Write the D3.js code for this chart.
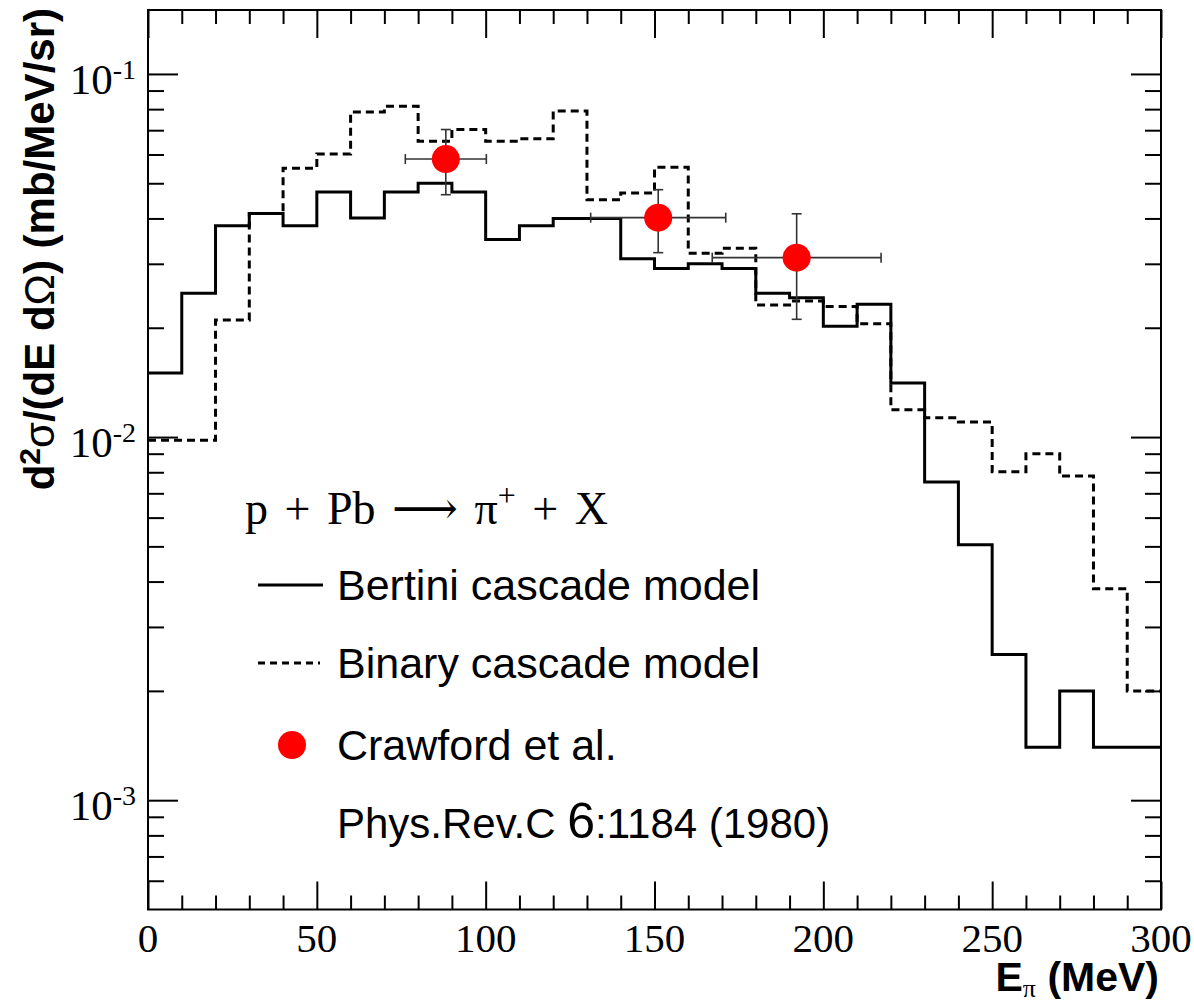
<!DOCTYPE html>
<html>
<head>
<meta charset="utf-8">
<script src="https://cdn.jsdelivr.net/npm/d3@7"></script>
<style>
  body { margin: 0; background: #fff; }
  .tick line { stroke: #000; stroke-width: 2; }
</style>
</head>
<body>
<div id="chart"></div>
<script>
// bins of 10 MeV
const binStarts = [0, 10, 20, 30, 40, 50, 60, 70, 80, 90, 100, 110, 120, 130, 140,
  150, 160, 170, 180, 190, 200, 210, 220, 230, 240, 250, 260, 270, 280, 290];
const binWidth = 10;

const bertini = [0.0150, 0.0249, 0.0382, 0.0413, 0.0382, 0.0473, 0.0401, 0.0473, 0.0500, 0.0473,
  0.0350, 0.0382, 0.0400, 0.0400, 0.0310, 0.0291, 0.0300, 0.0291, 0.0249, 0.0242,
  0.0202, 0.0232, 0.0141, 0.00752, 0.00505, 0.00252, 0.00140, 0.00200, 0.00140, 0.00140];

const binary = [0.0098, 0.0098, 0.0210, 0.0413, 0.0550, 0.0602, 0.0785, 0.0815, 0.0653, 0.0703,
  0.0653, 0.0663, 0.0790, 0.0450, 0.0470, 0.0553, 0.0321, 0.0331, 0.0231, 0.0237,
  0.0229, 0.0205, 0.0119, 0.0113, 0.0110, 0.00803, 0.0090, 0.00781, 0.00382, 0.00200];

// Crawford et al. data
const dataE = [88.2, 151.1, 192.1];
const dataEerr = [12, 20, 25];
const dataY = [0.0583, 0.0402, 0.0312];
const dataYhigh = [0.0703, 0.0480, 0.0412];
const dataYlow = [0.0465, 0.0322, 0.0211];

const xMajor = [0, 50, 100, 150, 200, 250, 300];
const xMinor = [10, 20, 30, 40, 60, 70, 80, 90, 110, 120, 130, 140, 160, 170, 180, 190,
  210, 220, 230, 240, 260, 270, 280, 290];
const yMajor = [1e-3, 1e-2, 1e-1];
const yMajorExp = ["-3", "-2", "-1"];
const yMinor = [6e-4, 7e-4, 8e-4, 9e-4, 2e-3, 3e-3, 4e-3, 5e-3, 6e-3, 7e-3, 8e-3, 9e-3,
  2e-2, 3e-2, 4e-2, 5e-2, 6e-2, 7e-2, 8e-2, 9e-2];

const W = 1194, H = 1003;
const plotL = 148, plotR = 1161, plotT = 10, plotB = 909.5;

const svg = d3.select("#chart").append("svg")
  .attr("width", W).attr("height", H);

const x = d3.scaleLinear().domain([0, 300]).range([plotL, plotR]);
const y = d3.scaleLog().domain([5e-4, 0.15]).range([plotB, plotT]);

// histograms
const histPoints = vals => {
  const pts = binStarts.map((b, i) => [b, vals[i]]);
  pts.push([binStarts[binStarts.length - 1] + binWidth, vals[vals.length - 1]]);
  return pts;
};
const stepLine = d3.line()
  .x(d => x(d[0]))
  .y(d => y(d[1]))
  .curve(d3.curveStepAfter);

svg.append("path")
  .attr("d", stepLine(histPoints(binary)))
  .attr("fill", "none")
  .attr("stroke", "#000")
  .attr("stroke-width", 3)
  .attr("stroke-dasharray", "8,5");

svg.append("path")
  .attr("d", stepLine(histPoints(bertini)))
  .attr("fill", "none")
  .attr("stroke", "#000")
  .attr("stroke-width", 3);

// data points with error bars
const pts = svg.append("g").selectAll("g")
  .data(dataE.map((e, i) => ({e, ee: dataEerr[i], v: dataY[i], hi: dataYhigh[i], lo: dataYlow[i]})))
  .join("g");
const cap = 5;
pts.append("line")
  .attr("x1", d => x(d.e - d.ee)).attr("x2", d => x(d.e + d.ee))
  .attr("y1", d => y(d.v)).attr("y2", d => y(d.v));
pts.append("line")
  .attr("x1", d => x(d.e)).attr("x2", d => x(d.e))
  .attr("y1", d => y(d.lo)).attr("y2", d => y(d.hi));
pts.append("line")
  .attr("x1", d => x(d.e - d.ee)).attr("x2", d => x(d.e - d.ee))
  .attr("y1", d => y(d.v) - cap).attr("y2", d => y(d.v) + cap);
pts.append("line")
  .attr("x1", d => x(d.e + d.ee)).attr("x2", d => x(d.e + d.ee))
  .attr("y1", d => y(d.v) - cap).attr("y2", d => y(d.v) + cap);
pts.append("line")
  .attr("x1", d => x(d.e) - cap).attr("x2", d => x(d.e) + cap)
  .attr("y1", d => y(d.hi)).attr("y2", d => y(d.hi));
pts.append("line")
  .attr("x1", d => x(d.e) - cap).attr("x2", d => x(d.e) + cap)
  .attr("y1", d => y(d.lo)).attr("y2", d => y(d.lo));
pts.selectAll("line").attr("stroke", "#333").attr("stroke-width", 1.6);
pts.append("circle")
  .attr("cx", d => x(d.e)).attr("cy", d => y(d.v))
  .attr("r", 14).attr("fill", "#ff0000");

// axes: ticks on all four sides, pointing inwards
const addAxis = (axisFn, scale, vals, size, transform) => {
  const g = svg.append("g").attr("transform", transform)
    .call(axisFn(scale).tickValues(vals).tickSize(-size).tickFormat(""));
  g.select(".domain").remove();
};
addAxis(d3.axisBottom, x, xMinor, 14, `translate(0,${plotB})`);
addAxis(d3.axisBottom, x, xMajor, 28, `translate(0,${plotB})`);
addAxis(d3.axisTop, x, xMinor, 14, `translate(0,${plotT})`);
addAxis(d3.axisTop, x, xMajor, 28, `translate(0,${plotT})`);
addAxis(d3.axisLeft, y, yMinor, 16, `translate(${plotL},0)`);
addAxis(d3.axisLeft, y, yMajor, 30, `translate(${plotL},0)`);
addAxis(d3.axisRight, y, yMinor, 16, `translate(${plotR},0)`);
addAxis(d3.axisRight, y, yMajor, 30, `translate(${plotR},0)`);

svg.append("rect")
  .attr("x", plotL).attr("y", plotT)
  .attr("width", plotR - plotL).attr("height", plotB - plotT)
  .attr("fill", "none").attr("stroke", "#000").attr("stroke-width", 2);

// tick labels
svg.append("g").selectAll("text").data(xMajor).join("text")
  .attr("x", d => x(d)).attr("y", 952)
  .attr("text-anchor", "middle")
  .style("font-family", "'Liberation Serif', serif")
  .style("font-size", "41px")
  .text(d => d);

const yl = svg.append("g").selectAll("text").data(yMajor).join("text")
  .attr("x", 136).attr("y", d => y(d) + 20)
  .attr("text-anchor", "end")
  .style("font-family", "'Liberation Serif', serif")
  .style("font-size", "43px");
yl.append("tspan").text("10");
yl.append("tspan").attr("dy", -15).style("font-size", "28px").text((d, i) => yMajorExp[i]);

// axis titles
const yt = svg.append("text")
  .attr("transform", `translate(54,8) rotate(-90)`)
  .attr("text-anchor", "end")
  .style("font-family", "'Liberation Sans', Arial, sans-serif")
  .style("font-weight", "bold")
  .style("font-size", "42px");
yt.append("tspan").text("d");
yt.append("tspan").attr("dy", -14).style("font-size", "30px").text("2");
yt.append("tspan").attr("dy", 14).style("font-weight", "normal").text("σ");
yt.append("tspan").text("/(dE d");
yt.append("tspan").style("font-weight", "normal").text("Ω");
yt.append("tspan").text(") (mb/MeV/sr)");

const xt = svg.append("text")
  .attr("x", 1159).attr("y", 991)
  .attr("text-anchor", "end")
  .style("font-family", "'Liberation Sans', Arial, sans-serif")
  .style("font-weight", "bold")
  .style("font-size", "41px");
xt.append("tspan").text("E");
xt.append("tspan").attr("dy", 6)
  .style("font-family", "'Liberation Serif', serif")
  .style("font-weight", "normal")
  .style("font-size", "26px").text("π");
xt.append("tspan").attr("dy", -6).text(" (MeV)");

// legend
const legX = 258, legTextX = 337;
const reaction = svg.append("text")
  .attr("x", 245).attr("y", 524)
  .style("font-family", "'Liberation Serif', serif")
  .style("font-size", "46px")
  .style("word-spacing", "5px");
reaction.append("tspan").text("p + Pb ");
reaction.append("tspan").style("font-family", "'DejaVu Serif', serif").style("font-weight", "300").text("⟶");
reaction.append("tspan").text(" π");
reaction.append("tspan").attr("dy", -18).style("font-size", "32px").text("+");
reaction.append("tspan").attr("dy", 18).text(" + X");

const legendRows = ["Bertini cascade model", "Binary cascade model", "Crawford et al."];
const legendY = [600, 678, 760];
svg.append("g").selectAll("text").data(legendRows).join("text")
  .attr("x", legTextX).attr("y", (d, i) => legendY[i])
  .style("font-family", "'Liberation Sans', Arial, sans-serif")
  .style("font-size", "43px")
  .text(d => d);

svg.append("line")
  .attr("x1", legX).attr("x2", 323)
  .attr("y1", legendY[0] - 15).attr("y2", legendY[0] - 15)
  .attr("stroke", "#000").attr("stroke-width", 3);
svg.append("line")
  .attr("x1", legX).attr("x2", 320)
  .attr("y1", legendY[1] - 15).attr("y2", legendY[1] - 15)
  .attr("stroke", "#000").attr("stroke-width", 3)
  .attr("stroke-dasharray", "7,5");
svg.append("circle")
  .attr("cx", 292).attr("cy", legendY[2] - 15)
  .attr("r", 14).attr("fill", "#ff0000");

const ref = svg.append("text")
  .attr("x", legTextX).attr("y", 838)
  .style("font-family", "'Liberation Sans', Arial, sans-serif")
  .style("font-size", "42px");
ref.append("tspan").text("Phys.Rev.C ");
ref.append("tspan").style("font-size", "50px").text("6");
ref.append("tspan").text(":1184 (1980)");
</script>
</body>
</html>
